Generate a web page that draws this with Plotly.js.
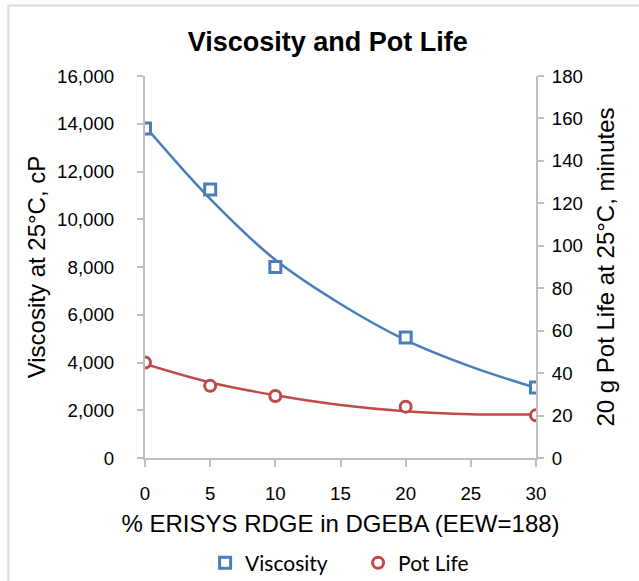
<!DOCTYPE html>
<html>
<head>
<meta charset="utf-8">
<script src="https://cdn.plot.ly/plotly-3.0.1.min.js"></script>
<style>html,body{margin:0;padding:0;background:#fff;}#chart{width:639px;height:581px;}</style>
</head>
<body>
<div id="chart"></div>
<script>
// Measured data
const pctRDGE = [0, 5, 10, 20, 30];
const viscosity = [13800, 11250, 8000, 5050, 2950];
const potLife = [45, 34, 29.2, 24.2, 20.1];

// Trendlines, values
const trendX = [0, 5, 10, 15, 20, 25, 30];
const viscosityTrend = [13900, 10850, 8300, 6450, 4940, 3830, 2940];
const potLifeTrend = [44.3, 35.6, 29.6, 25.0, 22.0, 20.6, 20.5];

const xTicks = [0, 5, 10, 15, 20, 25, 30];
const blue = '#4A7EBB';
const red = '#BE4B48';
const font = 'Liberation Sans, Arial, sans-serif';

const traces = [
  {x: trendX, y: viscosityTrend, mode: 'lines', line: {color: blue, width: 2.5, shape: 'spline', smoothing: 1}, showlegend: false, hoverinfo: 'skip'},
  {x: trendX, y: potLifeTrend, yaxis: 'y2', mode: 'lines', line: {color: red, width: 2.5, shape: 'spline', smoothing: 1}, showlegend: false, hoverinfo: 'skip'},
  {x: pctRDGE, y: viscosity, name: 'Viscosity', mode: 'markers', marker: {symbol: 'square', size: 11, color: '#ffffff', line: {color: blue, width: 3}}},
  {x: pctRDGE, y: potLife, name: 'Pot Life', yaxis: 'y2', mode: 'markers', marker: {symbol: 'circle', size: 11, color: '#ffffff', line: {color: red, width: 3}}}
];

const layout = {
  width: 639, height: 581,
  margin: {l: 144.5, r: 102.5, t: 76, b: 123, autoexpand: false},
  paper_bgcolor: '#ffffff', plot_bgcolor: '#ffffff',
  font: {family: font, color: '#000000', size: 18},
  title: {text: '<b>Viscosity and Pot Life</b>', font: {family: font, size: 27, color: '#000'}, x: 0.513, xanchor: 'center', y: 0.928, yanchor: 'middle'},
  xaxis: {
    range: [0, 30], tickvals: xTicks, ticktext: xTicks.map(String),
    showgrid: false, zeroline: false, showline: true, linecolor: '#BFBFBF', linewidth: 2,
    ticks: 'outside', ticklen: 7, tickwidth: 2, tickcolor: '#BFBFBF',
    tickfont: {size: 18.7, family: font}, ticklabelstandoff: 11,
    title: {text: '% ERISYS RDGE in DGEBA (EEW=188)', font: {size: 24, family: font}, standoff: 12}
  },
  yaxis: {
    range: [0, 16000], dtick: 2000, tickformat: ',d',
    showgrid: false, zeroline: false, showline: true, linecolor: '#BFBFBF', linewidth: 2,
    ticks: 'outside', ticklen: 6, tickwidth: 2, tickcolor: '#BFBFBF',
    tickfont: {size: 18.7, family: font}, ticklabelstandoff: 19,
    title: {text: 'Viscosity at 25°C, cP', font: {size: 24, family: font}, standoff: 5}
  },
  yaxis2: {
    range: [0, 180], dtick: 20, overlaying: 'y', side: 'right',
    showgrid: false, zeroline: false, showline: true, linecolor: '#BFBFBF', linewidth: 2,
    ticks: 'outside', ticklen: 6, tickwidth: 2, tickcolor: '#BFBFBF',
    tickfont: {size: 18.7, family: font}, ticklabelstandoff: 4,
    title: {text: '20 g Pot Life at 25°C, minutes', font: {size: 24, family: font}, standoff: 15}
  },
  legend: {orientation: 'h', x: 0.545, xanchor: 'center', y: -0.275, yanchor: 'middle', font: {size: 21, family: 'Lato, sans-serif'}, itemwidth: 30, entrywidth: 108, traceorder: 'normal'},
  shapes: [
    {type: 'line', xref: 'paper', yref: 'paper', x0: -0.3495, x1: -0.3495, y0: 1.1846, y1: -0.33, line: {color: '#D9D9D9', width: 2}},
    {type: 'line', xref: 'paper', yref: 'paper', x0: -0.3495, x1: 1.27, y0: 1.1846, y1: 1.1846, line: {color: '#D9D9D9', width: 2}}
  ]
};

Plotly.newPlot('chart', traces, layout, {displayModeBar: false, staticPlot: true});
</script>
</body>
</html>
